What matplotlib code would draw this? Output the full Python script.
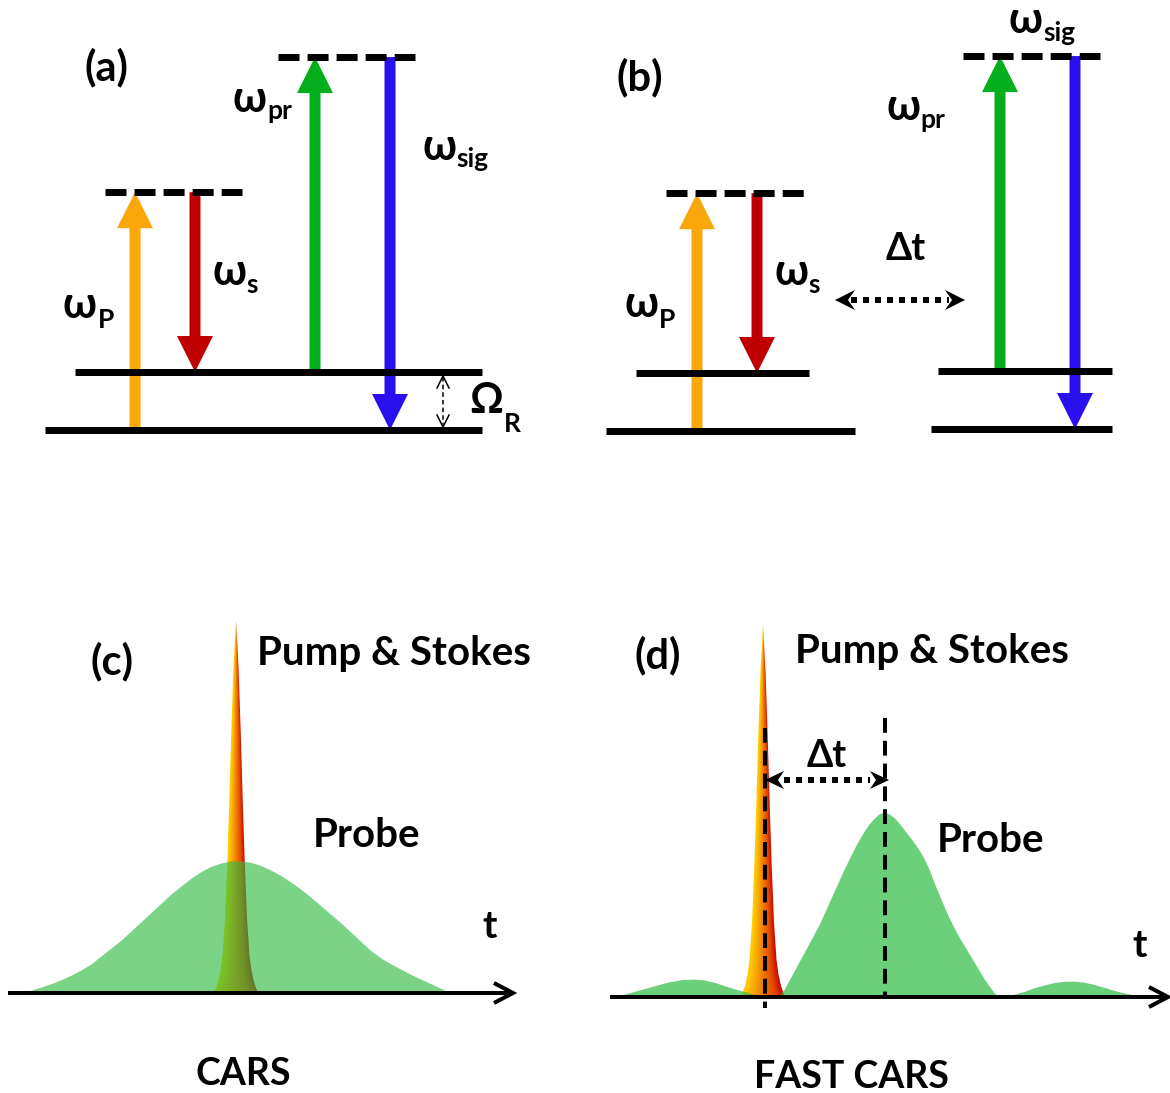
import numpy as np
import matplotlib
matplotlib.use('Agg')
import matplotlib.pyplot as plt
from matplotlib.patches import Polygon
from matplotlib.colors import LinearSegmentedColormap

plt.rcParams['font.family'] = ['Lato', 'Open Sans', 'DejaVu Sans']
plt.rcParams['font.weight'] = 'bold'

# ---- energy levels (arb. units, vibrational spacing Omega_R = 1) ----
level_E = [0.0, 1.0]            # ground, vibrational
w_p = 4.1                       # pump
w_s = 3.1                       # Stokes
w_pr = 5.43                     # probe
w_sig = 6.43                    # anti-Stokes signal
E_scale = 58                    # px per unit

# ---- pulses in time (offset from pulse centre, relative amplitude) ----
pump_frac = [0.0, 0.01, 0.03, 0.06, 0.1, 0.2, 0.36, 0.5, 0.7, 0.87, 1.0]
pump_halfw = [22.5, 20.5, 18.0, 15.5, 13.5, 11.0, 8.6, 6.9, 4.7, 2.6, 0.0]

probe_c_t = [-215, -205, -195, -185, -175, -165, -155, -145, -135, -125, -115, -105,
             -95, -85, -75, -65, -55, -45, -35, -25, -15, -5, 5, 15, 25, 35, 45, 55,
             65, 75, 85, 95, 105, 115, 125, 135, 145, 155, 165, 175, 185, 195, 205, 214]
probe_c_a = [0.0, 0.02, 0.045, 0.07, 0.10, 0.135, 0.175, 0.22, 0.28, 0.34, 0.40, 0.47,
             0.54, 0.61, 0.68, 0.75, 0.81, 0.87, 0.92, 0.96, 0.985, 1.0, 1.0, 0.99, 0.965,
             0.93, 0.89, 0.84, 0.785, 0.725, 0.66, 0.595, 0.53, 0.46, 0.39, 0.32, 0.265,
             0.22, 0.18, 0.14, 0.105, 0.07, 0.035, 0.0]

probe_d_t = [-272, -260, -250, -240, -230, -220, -210, -200, -190, -180, -170, -160,
             -150, -140, -130, -120, -110,
             -106, -100, -95, -90, -85, -80, -75, -70, -65, -60, -55, -50, -45, -40, -35,
             -30, -25, -20, -15, -10, -5, 0, 5, 10, 15, 20, 25, 30, 35, 40, 45, 50, 55,
             60, 65, 70, 75, 80, 85, 90, 95, 100, 105, 110, 115,
             120, 130, 140, 150, 160, 170, 180, 190, 200, 210, 220, 230, 240, 250, 260, 272]
probe_d_a = [0.0, 0.015, 0.03, 0.045, 0.06, 0.075, 0.087, 0.095, 0.097, 0.092, 0.08, 0.062,
             0.045, 0.03, 0.015, 0.005, 0.0,
             0.0, 0.04, 0.09, 0.14, 0.19, 0.24, 0.29, 0.34, 0.39, 0.45, 0.51, 0.57, 0.63,
             0.69, 0.745, 0.80, 0.85, 0.895, 0.935, 0.965, 0.99, 1.0, 0.99, 0.97, 0.94,
             0.905, 0.87, 0.835, 0.795, 0.75, 0.69, 0.62, 0.555, 0.49, 0.43, 0.375, 0.325,
             0.28, 0.235, 0.19, 0.145, 0.10, 0.06, 0.025, 0.0,
             0.0, 0.015, 0.03, 0.05, 0.065, 0.078, 0.085, 0.086, 0.08, 0.068, 0.052, 0.036,
             0.022, 0.011, 0.004, 0.0]

ORANGE, RED, GREEN, BLUE = '#F9A70B', '#C00000', '#04AF1E', '#2B10EF'
PROBE = '#2EBB40'

W, H = 1170, 1093
fig = plt.figure(figsize=(W / 100, H / 100), dpi=100)
ax = fig.add_axes([0, 0, 1, 1])
ax.set_xlim(0, W)
ax.set_ylim(H, 0)
ax.axis('off')

PX = 0.72  # points per pixel
LBL = 30   # panel letters
TXT = 29   # pulse names


def level(x0, x1, y, dashed=False):
    ls = (0, (3.0, 1.15)) if dashed else '-'
    ax.plot([x0, x1], [y, y], color='k', lw=7 * PX, ls=ls,
            solid_capstyle='butt', dash_capstyle='butt', zorder=3)


def photon(x, y0, y1, color):
    ax.arrow(x, y0, 0, y1 - y0, width=11, head_width=36, head_length=36,
             length_includes_head=True, color=color, lw=0, zorder=2)


def sym(x, y, main, sub, drop, size=31, subsize=19):
    t = ax.text(x, y, main, fontsize=size, ha='left', va='baseline')
    # subscript starts right after the symbol, lowered by `drop` px
    ax.annotate(sub, xy=(1.0, y + drop), xycoords=(t, 'data'),
                xytext=(0.5, 0), textcoords='offset points',
                fontsize=subsize, ha='left', va='baseline')


def dart(x, y, d, length=20, half=10, notch=7):
    pts = [(x, y), (x - d * length, y - half), (x - d * (length - notch), y),
           (x - d * length, y + half)]
    ax.add_patch(Polygon(pts, closed=True, color='k', lw=0, zorder=6))


def dotted_arrow(x0, x1, y):
    ax.plot([x0 + 16, x1 - 16], [y, y], color='k', lw=6 * PX, ls=(0, (1, 1)),
            dash_capstyle='butt', zorder=6)
    dart(x0, y, -1)
    dart(x1, y, 1)


def Ey(base, E):
    return base - E_scale * E


# ---------------- (a) ----------------
ba = 430
level(45, 482, Ey(ba, level_E[0]))
level(75, 482, Ey(ba, level_E[1]))
level(105, 242, Ey(ba, w_p), dashed=True)
level(278, 415, Ey(ba, w_sig), dashed=True)
photon(135, Ey(ba, 0), Ey(ba, w_p), ORANGE)
photon(195, Ey(ba, w_p), Ey(ba, w_p - w_s), RED)
photon(315, Ey(ba, 1), Ey(ba, 1 + w_pr), GREEN)
photon(390, Ey(ba, w_sig), Ey(ba, 0), BLUE)
# Omega_R marker
ax.plot([443, 443], [377, 426], color='k', lw=1.1, ls=(0, (3, 2)), zorder=4)
ax.plot([437, 443, 449], [388, 376, 388], color='k', lw=1.1, zorder=4)
ax.plot([437, 443, 449], [415, 427, 415], color='k', lw=1.1, zorder=4)
ax.text(106, 67, '(a)', fontsize=LBL, ha='center', va='center')
sym(63, 318, 'ω', 'P', 10)
sym(212, 285, 'ω', 's', 8)
sym(233, 112, 'ω', 'pr', 7)
sym(422, 160, 'ω', 'sig', 7)
sym(469, 413, 'Ω', 'R', 19, size=30)

# ---------------- (b) ----------------
bl, br = 431, 429
level(606, 855, Ey(bl, level_E[0]))
level(636, 809, Ey(bl, level_E[1]))
level(666, 805, Ey(bl, w_p), dashed=True)
photon(697, Ey(bl, 0), Ey(bl, w_p), ORANGE)
photon(757, Ey(bl, w_p), Ey(bl, w_p - w_s), RED)
level(931, 1112, Ey(br, level_E[0]))
level(938, 1112, Ey(br, level_E[1]))
level(963, 1100, Ey(br, w_sig), dashed=True)
photon(1000, Ey(br, 1), Ey(br, 1 + w_pr), GREEN)
photon(1075, Ey(br, w_sig), Ey(br, 0), BLUE)
dotted_arrow(835, 965, 300)
ax.text(640, 77, '(b)', fontsize=LBL, ha='center', va='center')
ax.text(886, 260, 'Δt', fontsize=27, ha='left', va='baseline')
sym(624, 317, 'ω', 'P', 11)
sym(774, 285, 'ω', 's', 8)
sym(886, 120, 'ω', 'pr', 8)
sym(1009, 33, 'ω', 'sig', 8)

# ---------------- pulses ----------------
cmap = LinearSegmentedColormap.from_list(
    'ps', ['#FFD000', '#F8A800', '#F07800', '#E44C00', '#C80000'])


def pump(xc, base, height):
    hw = np.array(pump_halfw)
    fr = np.array(pump_frac)
    yy = base - height * fr
    xs = np.concatenate([xc - hw, (xc + hw)[::-1]])
    ys = np.concatenate([yy, yy[::-1]])
    poly = Polygon(np.column_stack([xs, ys]), closed=True, fc='none', lw=0)
    ax.add_patch(poly)
    # shading across the local width of the pulse (yellow left, red right)
    gx = np.linspace(-hw[0], hw[0], 200)
    gf = np.linspace(1, 0, 400)
    local = np.maximum(np.interp(gf, fr, hw), 0.8)
    img = np.clip(0.5 + 0.5 * gx[None, :] / local[:, None], 0, 1)
    im = ax.imshow(img, cmap=cmap, extent=(xc - hw[0], xc + hw[0], base, base - height),
                   aspect='auto', interpolation='bilinear', zorder=1)
    im.set_clip_path(poly)


def probe(xc, base, height, t, a, alpha):
    xs = xc + np.array(t)
    ys = base - height * np.array(a)
    ax.fill_between(xs, ys, base, color=PROBE, alpha=alpha, lw=0, zorder=2)


def t_axis(x0, x1, y):
    ax.plot([x0, x1 - 2], [y, y], color='k', lw=4 * PX, solid_capstyle='butt', zorder=5)
    ax.plot([x1 - 19, x1, x1 - 19], [y - 10, y, y + 10], color='k', lw=4 * PX,
            solid_joinstyle='miter', solid_capstyle='butt', zorder=5)


# (c)
pump(236, 993, 373)
probe(236, 993, 132, probe_c_t, probe_c_a, 0.63)
t_axis(8, 513, 993)
ax.text(112, 661, '(c)', fontsize=LBL, ha='center', va='center')
ax.text(257, 665, 'Pump & Stokes', fontsize=TXT, ha='left', va='baseline')
ax.text(313, 847, 'Probe', fontsize=TXT, ha='left', va='baseline')
ax.text(490, 938, 't', fontsize=28, ha='center', va='baseline')
ax.text(243, 1085, 'CARS', fontsize=27, ha='center', va='baseline')

# (d)
pump(763, 997, 372)
probe(884, 997, 185, probe_d_t, probe_d_a, 0.7)
t_axis(610, 1168, 997)
ax.plot([765, 765], [728, 1008], color='k', lw=4 * PX, ls=(0, (3.7, 2.0)),
        dash_capstyle='butt', zorder=5)
ax.plot([885, 885], [718, 997], color='k', lw=4 * PX, ls=(0, (3.7, 2.0)),
        dash_capstyle='butt', zorder=5)
ax.plot([784, 870], [780, 780], color='k', lw=6 * PX, ls=(0, (1, 1)),
        dash_capstyle='butt', zorder=6)
dart(765, 780, -1, length=19, half=9, notch=6)
dart(889, 780, 1, length=19, half=9, notch=6)
ax.text(658, 655, '(d)', fontsize=LBL, ha='center', va='center')
ax.text(795, 663, 'Pump & Stokes', fontsize=TXT, ha='left', va='baseline')
ax.text(937, 852, 'Probe', fontsize=TXT, ha='left', va='baseline')
ax.text(807, 767, 'Δt', fontsize=27, ha='left', va='baseline')
ax.text(1140, 957, 't', fontsize=28, ha='center', va='baseline')
ax.text(851, 1088, 'FAST CARS', fontsize=27, ha='center', va='baseline')

fig.savefig('out.png', dpi=100)
